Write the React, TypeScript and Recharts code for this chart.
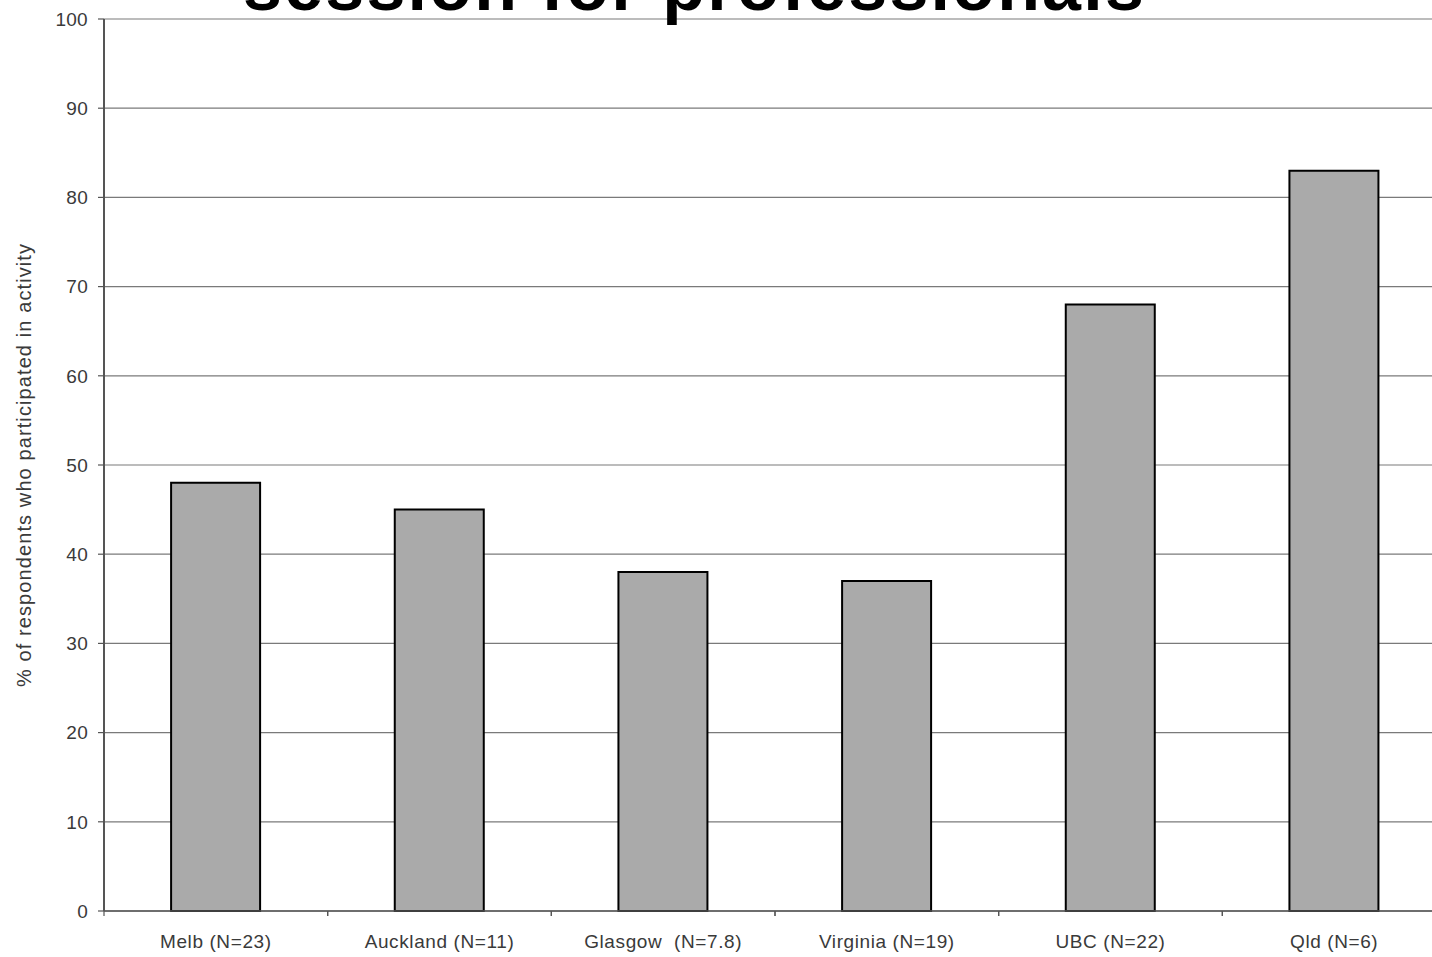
import React from 'react';
import { BarChart, Bar, XAxis, YAxis, CartesianGrid } from 'recharts';

const categories = ['Melb (N=23)', 'Auckland (N=11)', 'Glasgow  (N=7.8)', 'Virginia (N=19)', 'UBC (N=22)', 'Qld (N=6)'];
const percentages = [48, 45, 38, 37, 68, 83];
const yTicks = [0, 10, 20, 30, 40, 50, 60, 70, 80, 90, 100];
const titleText = 'session for professionals';
const yLabel = '% of respondents who participated in activity';

const data = categories.map((name, i) => ({ name, value: percentages[i] }));

const FONT = '"Liberation Sans", Arial, Helvetica, sans-serif';

const CatTick = (props: any) => {
  const { x, y, payload } = props;
  const half = payload && typeof payload.offset === 'number' ? payload.offset : 0;
  return (
    <g>
      <line x1={x - half} x2={x - half} y1={y} y2={y + 5} stroke="#555" strokeWidth={1.2} />
      <line x1={x + half} x2={x + half} y1={y} y2={y + 5} stroke="#555" strokeWidth={1.2} />
      <text
        x={x}
        y={y + 37}
        textAnchor="middle"
        fill="#3a3a3a"
        style={{ fontFamily: FONT, fontSize: 19, letterSpacing: 0.6, whiteSpace: 'pre' }}
      >
        {payload.value}
      </text>
    </g>
  );
};

export default function App() {
  return (
    <div
      style={{
        position: 'absolute',
        left: 0,
        top: 0,
        width: 1432,
        height: 957,
        overflow: 'hidden',
        background: '#fff',
      }}
    >
      <BarChart
        width={1460}
        height={957}
        data={data}
        margin={{ top: 19, right: 14, bottom: 0, left: 0 }}
        barCategoryGap="30%"
      >
        <CartesianGrid vertical={false} stroke="#7a7a7a" strokeWidth={1.2} />
        <XAxis
          dataKey="name"
          type="category"
          height={46}
          tickSize={0}
          tickMargin={0}
          tickLine={false}
          axisLine={{ stroke: '#555', strokeWidth: 1.5 }}
          tick={<CatTick />}
          interval={0}
        />
        <YAxis
          type="number"
          domain={[0, 100]}
          ticks={yTicks}
          width={104}
          tickSize={6}
          tickMargin={10}
          interval={0}
          axisLine={{ stroke: '#555', strokeWidth: 2 }}
          tickLine={{ stroke: '#555', strokeWidth: 1.2 }}
          tick={{ fill: '#3a3a3a', fontSize: 19, fontFamily: FONT, letterSpacing: 0.3 }}
          label={{
            value: yLabel,
            angle: -90,
            position: 'insideLeft',
            offset: 24,
            style: { textAnchor: 'middle', fill: '#3a3a3a', fontSize: 20, fontFamily: FONT, letterSpacing: 1.1 },
          }}
        />
        <Bar
          dataKey="value"
          fill="#aaaaaa"
          stroke="#000"
          strokeWidth={2}
          isAnimationActive={false}
        />
      </BarChart>
      <svg
        width={1432}
        height={40}
        style={{ position: 'absolute', left: 0, top: 0, overflow: 'hidden' }}
      >
        <text
          x={243}
          y={10}
          fill="#000"
          style={{ fontFamily: FONT, fontWeight: 'bold', fontSize: 70, letterSpacing: 2.2 }}
        >
          {titleText}
        </text>
      </svg>
    </div>
  );
}
